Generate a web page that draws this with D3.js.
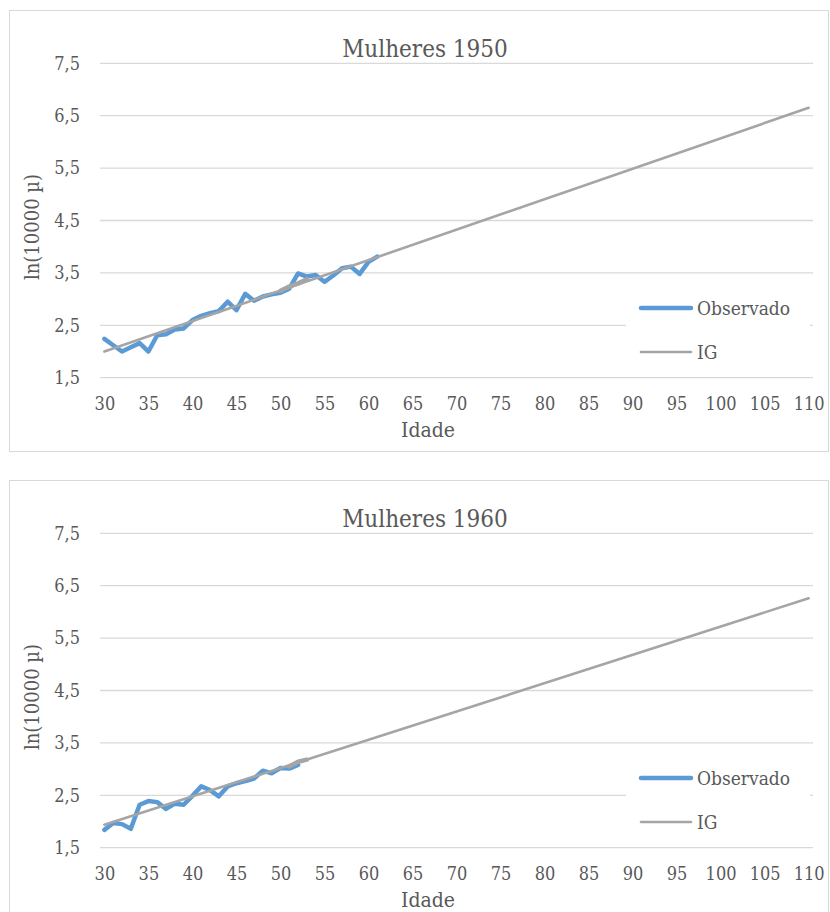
<!DOCTYPE html>
<html>
<head>
<meta charset="utf-8">
<script src="https://cdn.jsdelivr.net/npm/d3@7/dist/d3.min.js"></script>
<style>
  html, body { margin: 0; padding: 0; background: #fff; }
  svg { display: block; }
  text { font-family: "DejaVu Serif Condensed", "DejaVu Serif", serif; font-stretch: condensed; fill: #595959; }
</style>
</head>
<body>
<svg id="chart" width="830" height="912"></svg>
<script>
// Ages on the category axis and the labelled ticks
const ages = d3.range(30, 111);
const tickAges = [30, 35, 40, 45, 50, 55, 60, 65, 70, 75, 80, 85, 90, 95, 100, 105, 110];
const yTicks = [1.5, 2.5, 3.5, 4.5, 5.5, 6.5, 7.5];

// Mulheres 1950: observed ln(10000 mu) from age 30
const obs1950Start = 30;
const obs1950 = [2.24, 2.12, 2.00, 2.08, 2.16, 2.00, 2.31, 2.33, 2.42, 2.44,
                 2.60, 2.68, 2.73, 2.77, 2.95, 2.79, 3.10, 2.97, 3.05, 3.09,
                 3.12, 3.20, 3.49, 3.43, 3.46, 3.33, 3.45, 3.59, 3.62, 3.48,
                 3.71, 3.81];
// fitted segment over the last ages of the observed range
const fit1950Ages = [50, 51, 52, 53];
const fit1950 = [3.16, 3.24, 3.30, 3.38];
// IG straight line endpoints
const igAges = [30, 110];
const ig1950 = [2.00, 6.65];

// Mulheres 1960
const obs1960Start = 30;
const obs1960 = [1.84, 1.97, 1.95, 1.86, 2.32, 2.39, 2.37, 2.24, 2.34, 2.32,
                 2.49, 2.67, 2.60, 2.48, 2.67, 2.73, 2.77, 2.82, 2.97, 2.92,
                 3.02, 3.01, 3.08];
const fit1960Ages = [51, 52, 53];
const fit1960 = [3.05, 3.14, 3.18];
const ig1960 = [1.94, 6.26];

const charts = [
  { title: "Mulheres 1950", top: 10, obsStart: obs1950Start, obs: obs1950,
    fitAges: fit1950Ages, fit: fit1950, ig: ig1950 },
  { title: "Mulheres 1960", top: 480, obsStart: obs1960Start, obs: obs1960,
    fitAges: fit1960Ages, fit: fit1960, ig: ig1960 }
];

const BLUE = "#5B9BD5", GRAY = "#A5A5A5", GRID = "#D9D9D9";
const svg = d3.select("#chart");

const x = d3.scalePoint().domain(ages).range([100, 813]).padding(0.5);
const fmt = d => d3.format(".1f")(d).replace(".", ",");

charts.forEach(c => {
  const g = svg.append("g").attr("transform", `translate(0,${c.top})`);
  const y = d3.scaleLinear().domain([1.5, 7.5]).range([367.7, 53.3]);

  // frame
  g.append("rect").attr("x", 9.5).attr("y", 0.5).attr("width", 819).attr("height", 441)
    .attr("fill", "#fff").attr("stroke", GRID).attr("stroke-width", 1);

  // gridlines
  g.append("g").selectAll("line").data(yTicks).join("line")
    .attr("x1", 100).attr("x2", 813)
    .attr("y1", d => y(d)).attr("y2", d => y(d))
    .attr("stroke", GRID).attr("stroke-width", 1.3);

  // y axis labels
  const ya = g.append("g").attr("transform", "translate(100,0)")
    .call(d3.axisLeft(y).tickValues(yTicks).tickSize(0).tickPadding(20).tickFormat(fmt));
  ya.select(".domain").remove();
  ya.selectAll("text").attr("font-size", 18).attr("font-family", null).attr("fill", null);

  // x axis labels
  const xa = g.append("g").attr("transform", `translate(0,${y(1.5)})`)
    .call(d3.axisBottom(x).tickValues(tickAges).tickSize(0).tickPadding(20));
  xa.select(".domain").remove();
  xa.selectAll("text").attr("font-size", 18).attr("font-family", null).attr("fill", null);

  // title and axis titles
  g.append("text").attr("x", 425).attr("y", 47).attr("text-anchor", "middle")
    .attr("font-size", 24).text(c.title);
  g.append("text").attr("x", 428).attr("y", 427).attr("text-anchor", "middle")
    .attr("font-size", 21).text("Idade");
  g.append("text").attr("transform", "translate(39,217) rotate(-90)")
    .attr("text-anchor", "middle").attr("font-size", 20).text("ln(10000 µ)");

  const line = d3.line().x(d => x(d[0])).y(d => y(d[1]));
  const obsPts = c.obs.map((v, i) => [c.obsStart + i, v]);
  const igPts = igAges.map((a, i) => [a, c.ig[i]]);
  const fitPts = c.fitAges.map((a, i) => [a, c.fit[i]]);

  g.append("path").datum(obsPts).attr("d", line).attr("fill", "none")
    .attr("stroke", BLUE).attr("stroke-width", 4.5).attr("stroke-linejoin", "round").attr("stroke-linecap", "round");
  g.append("path").datum(igPts).attr("d", line).attr("fill", "none")
    .attr("stroke", GRAY).attr("stroke-width", 2.6).attr("stroke-linecap", "round");
  g.append("path").datum(fitPts).attr("d", line).attr("fill", "none")
    .attr("stroke", GRAY).attr("stroke-width", 4.5).attr("stroke-linejoin", "round").attr("stroke-linecap", "round");

  // legend
  const lg = g.append("g");
  lg.append("rect").attr("x", 626).attr("y", 280).attr("width", 184).attr("height", 82).attr("fill", "#fff");
  const items = [{ name: "Observado", color: BLUE, w: 4.5, yy: 298 }, { name: "IG", color: GRAY, w: 2.6, yy: 342 }];
  items.forEach(it => {
    lg.append("line").attr("x1", 641).attr("x2", 691).attr("y1", it.yy).attr("y2", it.yy)
      .attr("stroke", it.color).attr("stroke-width", it.w).attr("stroke-linecap", "round");
    lg.append("text").attr("x", 697).attr("y", it.yy).attr("dy", "0.35em")
      .attr("font-size", 19).text(it.name);
  });
});
</script>
</body>
</html>
